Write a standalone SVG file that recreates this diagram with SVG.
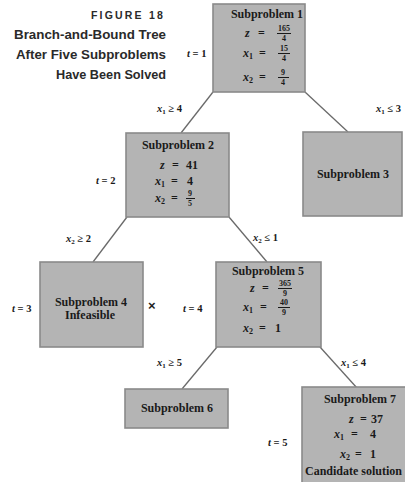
<svg xmlns="http://www.w3.org/2000/svg" width="405" height="482" viewBox="0 0 405 482">
<style>
.box{fill:#b4b4b4;stroke:#8a8a8a;stroke-width:1.6}
.t{font-family:"Liberation Serif",serif;font-weight:bold;font-size:12px;fill:#1a1a1a}
.eq{font-family:"Liberation Serif",serif;font-weight:bold;font-size:12px;fill:#1a1a1a}
.fr{font-family:"Liberation Serif",serif;font-weight:bold;font-size:8px;fill:#1a1a1a;text-anchor:middle}
.bar{stroke:#1a1a1a;stroke-width:1}
.lab{font-family:"Liberation Serif",serif;font-weight:bold;font-size:10.5px;fill:#1a1a1a}
.it{font-style:italic}
.title{font-family:"Liberation Sans",Arial,sans-serif;font-weight:bold;fill:#2a2a2a;text-anchor:end}
.edge{stroke:#6a6a6a;stroke-width:1.3;fill:none}
</style>
<rect width="405" height="482" fill="#ffffff"/>
<g id="caption">
<text class="title" x="165" y="19" font-size="10.5" letter-spacing="2.2">FIGURE 18</text>
<text class="title" x="166" y="39" font-size="12" textLength="152" lengthAdjust="spacingAndGlyphs">Branch-and-Bound Tree</text>
<text class="title" x="166" y="59" font-size="12" textLength="150" lengthAdjust="spacingAndGlyphs">After Five Subproblems</text>
<text class="title" x="166" y="79" font-size="12" textLength="110" lengthAdjust="spacingAndGlyphs">Have Been Solved</text>
</g>
<g id="connectors">
<line class="edge" x1="213" y1="92" x2="181" y2="133"/>
<line class="edge" x1="305" y1="92" x2="348" y2="132"/>
<line class="edge" x1="127" y1="217" x2="93" y2="262"/>
<line class="edge" x1="229" y1="217" x2="267" y2="262"/>
<line class="edge" x1="217" y1="347" x2="182" y2="389"/>
<line class="edge" x1="320" y1="347" x2="357" y2="388"/>
<text class="lab" x="157" y="112"><tspan class="it">x</tspan><tspan font-size="7" dy="2">1</tspan><tspan dy="-2"> ≥ 4</tspan></text>
<text class="lab" x="376" y="112"><tspan class="it">x</tspan><tspan font-size="7" dy="2">1</tspan><tspan dy="-2"> ≤ 3</tspan></text>
<text class="lab" x="66" y="242"><tspan class="it">x</tspan><tspan font-size="7" dy="2">2</tspan><tspan dy="-2"> ≥ 2</tspan></text>
<text class="lab" x="253" y="241"><tspan class="it">x</tspan><tspan font-size="7" dy="2">2</tspan><tspan dy="-2"> ≤ 1</tspan></text>
<text class="lab" x="157" y="366"><tspan class="it">x</tspan><tspan font-size="7" dy="2">1</tspan><tspan dy="-2"> ≥ 5</tspan></text>
<text class="lab" x="341" y="366"><tspan class="it">x</tspan><tspan font-size="7" dy="2">1</tspan><tspan dy="-2"> ≤ 4</tspan></text>
</g>
<g id="tlabels">
<text class="lab" x="187" y="57"><tspan class="it">t</tspan> = 1</text>
<text class="lab" x="96" y="184"><tspan class="it">t</tspan> = 2</text>
<text class="lab" x="12" y="312"><tspan class="it">t</tspan> = 3</text>
<text class="lab" x="183" y="312"><tspan class="it">t</tspan> = 4</text>
<text class="lab" x="268" y="446"><tspan class="it">t</tspan> = 5</text>
<text x="148" y="310" font-family="Liberation Sans,sans-serif" font-weight="bold" font-size="13" fill="#222">×</text>
</g>
<g id="sub1">
<rect class="box" x="213" y="4" width="92" height="88"/>
<text class="t" x="267" y="18" text-anchor="middle">Subproblem 1</text>
<text class="eq" y="37"><tspan class="it" x="245">z</tspan><tspan x="258">=</tspan></text>
<text class="fr" x="284" y="31">165</text><line class="bar" x1="277" y1="33.5" x2="291" y2="33.5"/><text class="fr" x="284" y="41">4</text>
<text class="eq" y="57"><tspan class="it" x="243">x</tspan><tspan font-size="8" dy="2">1</tspan><tspan x="259" dy="-2">=</tspan></text>
<text class="fr" x="284" y="51">15</text><line class="bar" x1="278" y1="53.5" x2="290" y2="53.5"/><text class="fr" x="284" y="61">4</text>
<text class="eq" y="81"><tspan class="it" x="243">x</tspan><tspan font-size="8" dy="2">2</tspan><tspan x="259" dy="-2">=</tspan></text>
<text class="fr" x="283" y="75">9</text><line class="bar" x1="278" y1="77.5" x2="289" y2="77.5"/><text class="fr" x="283" y="85">4</text>
</g>
<g id="sub2">
<rect class="box" x="126" y="133" width="103" height="84"/>
<text class="t" x="178" y="149" text-anchor="middle">Subproblem 2</text>
<text class="eq" y="169"><tspan class="it" x="160">z</tspan><tspan x="172">=</tspan><tspan x="186">41</tspan></text>
<text class="eq" y="185"><tspan class="it" x="155">x</tspan><tspan font-size="8" dy="2">1</tspan><tspan x="171" dy="-2">=</tspan><tspan x="187">4</tspan></text>
<text class="eq" y="202"><tspan class="it" x="155">x</tspan><tspan font-size="8" dy="2">2</tspan><tspan x="171" dy="-2">=</tspan></text>
<text class="fr" x="190" y="196">9</text><line class="bar" x1="186" y1="198.5" x2="195" y2="198.5"/><text class="fr" x="190" y="206">5</text>
</g>
<g id="sub3">
<rect class="box" x="303" y="132" width="99" height="84"/>
<text class="t" x="353" y="178" text-anchor="middle">Subproblem 3</text>
</g>
<g id="sub4">
<rect class="box" x="40" y="262" width="103" height="85"/>
<text class="t" x="91" y="306" text-anchor="middle">Subproblem 4</text>
<text class="t" x="90" y="319" text-anchor="middle" font-size="11">Infeasible</text>
</g>
<g id="sub5">
<rect class="box" x="216" y="262" width="105" height="85"/>
<text class="t" x="268" y="275" text-anchor="middle">Subproblem 5</text>
<text class="eq" y="292"><tspan class="it" x="250">z</tspan><tspan x="262">=</tspan></text>
<text class="fr" x="285" y="286">365</text><line class="bar" x1="278" y1="288.5" x2="292" y2="288.5"/><text class="fr" x="285" y="295.5">9</text>
<text class="eq" y="311"><tspan class="it" x="243">x</tspan><tspan font-size="8" dy="2">1</tspan><tspan x="260" dy="-2">=</tspan></text>
<text class="fr" x="284" y="305">40</text><line class="bar" x1="278" y1="307.5" x2="290" y2="307.5"/><text class="fr" x="284" y="315">9</text>
<text class="eq" y="332"><tspan class="it" x="243">x</tspan><tspan font-size="8" dy="2">2</tspan><tspan x="259" dy="-2">=</tspan><tspan x="275">1</tspan></text>
</g>
<g id="sub6">
<rect class="box" x="125" y="389" width="103" height="39"/>
<text class="t" x="177" y="412" text-anchor="middle">Subproblem 6</text>
</g>
<g id="sub7">
<rect class="box" x="302" y="387" width="110" height="100"/>
<text class="t" x="360" y="403" text-anchor="middle">Subproblem 7</text>
<text class="eq" y="423"><tspan class="it" x="349">z</tspan><tspan x="360">=</tspan><tspan x="371">37</tspan></text>
<text class="eq" y="438"><tspan class="it" x="334">x</tspan><tspan font-size="8" dy="2">1</tspan><tspan x="351" dy="-2">=</tspan><tspan x="370">4</tspan></text>
<text class="eq" y="458"><tspan class="it" x="340">x</tspan><tspan font-size="8" dy="2">2</tspan><tspan x="355" dy="-2">=</tspan><tspan x="370">1</tspan></text>
<text class="t" x="305" y="475" font-size="11.5" textLength="97" lengthAdjust="spacingAndGlyphs">Candidate solution</text>
</g>
</svg>
